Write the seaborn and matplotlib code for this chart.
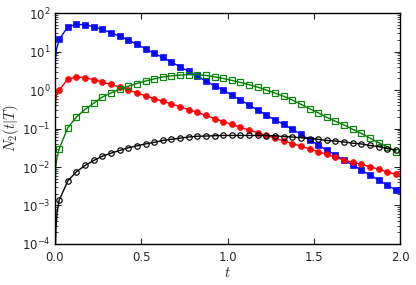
import matplotlib
matplotlib.use("Agg")
import matplotlib.pyplot as plt
import matplotlib.ticker as mticker
import seaborn as sns
import numpy as np
import pandas as pd

# marker times
t_marks = [0.025, 0.075, 0.125, 0.175, 0.225, 0.275, 0.325, 0.375, 0.425, 0.475,
           0.525, 0.575, 0.625, 0.675, 0.725, 0.775, 0.825, 0.875, 0.925, 0.975,
           1.025, 1.075, 1.125, 1.175, 1.225, 1.275, 1.325, 1.375, 1.425, 1.475,
           1.525, 1.575, 1.625, 1.675, 1.725, 1.775, 1.825, 1.875, 1.925, 1.975]

blue_vals = [20.7, 44.2, 50.8, 49.8, 44.2, 37.7, 30.9, 25.1, 20.0, 15.4,
             11.8, 8.97, 7.06, 5.33, 4.03, 3.05, 2.31, 1.71, 1.30, 1.00,
             0.741, 0.550, 0.407, 0.302, 0.224, 0.166, 0.129, 0.0955, 0.0708, 0.0513,
             0.0372, 0.0275, 0.0204, 0.0151, 0.0112, 0.00832, 0.00617, 0.00457, 0.00339, 0.00251]

red_vals = [1.00, 1.95, 2.16, 2.11, 1.86, 1.62, 1.40, 1.20, 1.00, 0.851,
            0.708, 0.603, 0.513, 0.437, 0.372, 0.309, 0.263, 0.219, 0.182, 0.151,
            0.129, 0.107, 0.0912, 0.0776, 0.0661, 0.0562, 0.0479, 0.0407, 0.0347, 0.0295,
            0.0251, 0.0214, 0.0178, 0.0151, 0.0132, 0.0117, 0.0102, 0.00871, 0.00741, 0.00646]

green_vals = [0.0302, 0.105, 0.200, 0.316, 0.457, 0.661, 0.841, 1.05, 1.26, 1.48,
              1.72, 1.95, 2.19, 2.34, 2.45, 2.51, 2.51, 2.40, 2.21, 2.00,
              1.78, 1.58, 1.38, 1.19, 1.00, 0.832, 0.692, 0.550, 0.427, 0.327,
              0.257, 0.195, 0.155, 0.123, 0.0955, 0.0750, 0.0562, 0.0427, 0.0339, 0.0251]

black_vals = [0.00138, 0.00437, 0.00759, 0.0110, 0.0148, 0.0191, 0.0229, 0.0269, 0.0316, 0.0355,
              0.0398, 0.0437, 0.0490, 0.0525, 0.0562, 0.0603, 0.0631, 0.0638, 0.0650, 0.0661,
              0.0661, 0.0661, 0.0661, 0.0661, 0.0653, 0.0646, 0.0617, 0.0603, 0.0575, 0.0550,
              0.0525, 0.0490, 0.0473, 0.0447, 0.0417, 0.0398, 0.0363, 0.0339, 0.0302, 0.0275]

# steep start of each curve near t = 0 (line only)
blue_start_t = [0.0, 0.003, 0.008]
blue_start = [1.6, 6.3, 11.0]
red_start_t = [0.0, 0.004, 0.010]
red_start = [0.1, 0.5, 0.76]
green_start_t = [0.0, 0.005, 0.012]
green_start = [0.0016, 0.010, 0.018]
black_start_t = [0.0, 0.006, 0.013]
black_start = [3e-5, 2.5e-4, 7e-4]

series = [
    ("blue", blue_vals, blue_start_t, blue_start, "#0000ff", "s", True, 4.3),
    ("red", red_vals, red_start_t, red_start, "#ff0000", "o", True, 4.3),
    ("green", green_vals, green_start_t, green_start, "#008000", "s", False, 4.0),
    ("black", black_vals, black_start_t, black_start, "#000000", "o", False, 3.9),
]

sns.set_style("ticks")
plt.rcParams['font.family'] = ['DejaVu Sans']
plt.rcParams['mathtext.fontset'] = 'cm'

fig, ax = plt.subplots(figsize=(4.16, 2.85), dpi=100)
fig.subplots_adjust(left=0.132, right=0.962, top=0.954, bottom=0.144)

for name, vals, st, sv, color, marker, filled, ms in series:
    line_df = pd.DataFrame({"t": st + t_marks, "N": sv + vals})
    sns.lineplot(data=line_df, x="t", y="N", ax=ax, color=color, lw=1.0,
                 sort=False, estimator=None, legend=False)
    ax.plot(t_marks, vals, linestyle="none", marker=marker, markersize=ms,
            markerfacecolor=color if filled else "none",
            markeredgecolor=color, markeredgewidth=0.9 if not filled else 0.5,
            alpha=0.95)

ax.set_yscale("log")
ax.set_xlim(0, 2)
ax.set_ylim(1e-4, 1e2)
ax.xaxis.set_major_locator(mticker.MultipleLocator(0.5))
ax.xaxis.set_major_formatter(mticker.FormatStrFormatter("%.1f"))
ax.yaxis.set_major_locator(mticker.LogLocator(base=10, numticks=10))
ax.yaxis.set_minor_locator(mticker.LogLocator(base=10, subs=np.arange(2, 10), numticks=20))
ax.yaxis.set_minor_formatter(mticker.NullFormatter())

ax.tick_params(which="both", direction="in", top=True, right=True, labelsize=8.5)
ax.tick_params(axis="x", pad=5)
ax.tick_params(axis="y", pad=3)
ax.tick_params(which="major", length=4, width=0.8)
ax.tick_params(which="minor", length=2, width=0.6)
for sp in ax.spines.values():
    sp.set_linewidth(1.0)
    sp.set_color("black")

ax.set_xlabel("$t$", fontsize=10.5, labelpad=1)
ax.set_ylabel("$N_2(t|T)$", fontsize=10.5, labelpad=1)

fig.savefig("out.png", dpi=100)
